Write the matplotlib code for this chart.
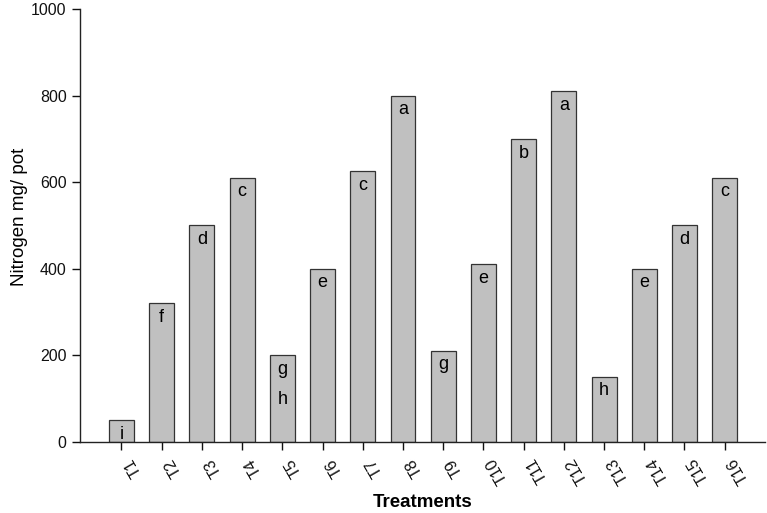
import matplotlib
matplotlib.use("Agg")
import matplotlib.pyplot as plt

plt.rcParams['font.family'] = ['Liberation Sans', 'DejaVu Sans']

treatments = ["T1", "T2", "T3", "T4", "T5", "T6", "T7", "T8",
              "T9", "T10", "T11", "T12", "T13", "T14", "T15", "T16"]
nitrogen = [50, 320, 500, 610, 200, 400, 625, 800,
            210, 410, 700, 810, 150, 400, 500, 610]
letters = ["i", "f", "d", "c", "g\n\nh", "e", "c", "a",
           "g", "e", "b", "a", "h", "e", "d", "c"]

fig = plt.figure(figsize=(7.67, 5.13), dpi=100)
ax = fig.add_axes([0.104, 0.139, 0.893, 0.843])

pos = list(range(1, len(treatments) + 1))
ax.bar(pos, nitrogen, width=0.62, color="#c0c0c0", edgecolor="#333333", linewidth=0.9)

for x, v, l in zip(pos, nitrogen, letters):
    ax.annotate(l, (x, v), xytext=(0, -4), textcoords="offset points",
                ha="center", va="top", fontsize=13, linespacing=0.85)

ax.set_xlim(-0.037, 16.995)
ax.set_ylim(0, 1000)
ax.set_yticks([0, 200, 400, 600, 800, 1000])
ax.set_xticks(pos)
ax.set_xticklabels(treatments, rotation=120, ha="right", va="top", rotation_mode="anchor")
ax.tick_params(axis="both", direction="out", length=6, width=1, labelsize=11.5, colors="#111111")
ax.tick_params(axis="x", pad=9)
for s in ["top", "right"]:
    ax.spines[s].set_visible(False)
for s in ["left", "bottom"]:
    ax.spines[s].set_linewidth(1)
    ax.spines[s].set_color("#222222")

ax.set_ylabel("Nitrogen mg/ pot", fontsize=13.5)
ax.yaxis.set_label_coords(-0.075, 0.52)
ax.set_xlabel("Treatments", fontsize=13.5, fontweight="bold")
ax.xaxis.set_label_coords(0.5, -0.12)

fig.savefig("out.png", dpi=100)
